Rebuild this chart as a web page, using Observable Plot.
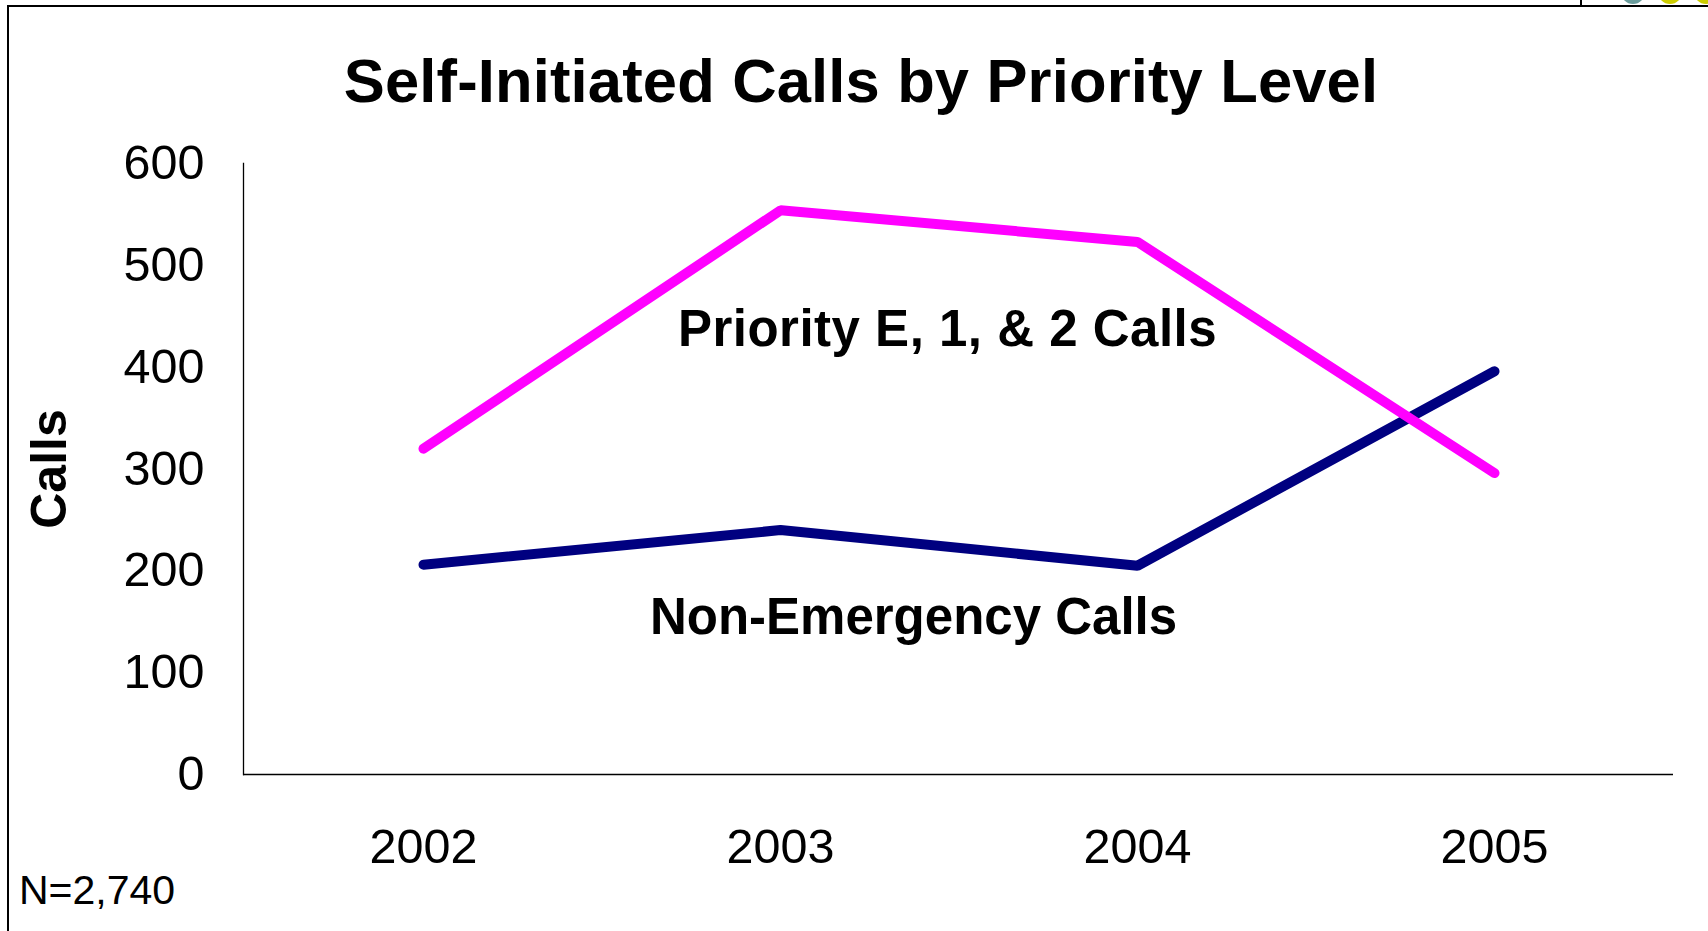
<!DOCTYPE html>
<html>
<head>
<meta charset="utf-8">
<script src="https://cdn.jsdelivr.net/npm/d3@7"></script>
<script src="https://cdn.jsdelivr.net/npm/@observablehq/plot@0.6"></script>
<style>
  html, body { margin: 0; padding: 0; background: #fff; }
  #wrap { position: relative; width: 1708px; height: 931px; overflow: hidden; font-family: "Liberation Sans", Arial, sans-serif; color: #000; }
  #frame { position: absolute; left: 7px; top: 5px; width: 1800px; height: 1000px; border-left: 2px solid #000; border-top: 2px solid #000; }
  #tick { position: absolute; left: 1580px; top: 0; width: 2px; height: 6px; background: #000; }
  .dot { position: absolute; width: 24px; height: 24px; border-radius: 50%; top: -20px; }
  #title { position: absolute; left: 7px; width: 1708px; top: 50px; text-align: center; font-size: 61.5px; line-height: 61.5px; font-weight: bold; letter-spacing: 0.15px; white-space: nowrap; }
  #note { position: absolute; left: 19px; top: 870px; font-size: 41px; line-height: 41px; white-space: nowrap; }
  #chart { position: absolute; left: 0; top: 0; }
</style>
</head>
<body>
<div id="wrap">
  <div id="frame"></div>
  <div id="tick"></div>
  <div class="dot" style="left:1621px;background:#6a9c9c"></div>
  <div class="dot" style="left:1658px;background:#cccc00"></div>
  <div class="dot" style="left:1694px;background:#cccc00"></div>
  <div id="chart"></div>
  <div id="title">Self-Initiated Calls by Priority Level</div>
  <div id="note">N=2,740</div>
</div>
<script>
const years = ["2002", "2003", "2004", "2005"];
const priorityCalls = [320, 554, 523, 296];
const nonEmergencyCalls = [206, 240, 205, 396];
const yTicks = [0, 100, 200, 300, 400, 500, 600];
const seriesNames = ["Priority E, 1, & 2 Calls", "Non-Emergency Calls"];
const seriesColors = ["#FF00FF", "#000080"];
const yLabel = "Calls";

const prio = years.map((y, i) => ({year: y, calls: priorityCalls[i]}));
const nonEm = years.map((y, i) => ({year: y, calls: nonEmergencyCalls[i]}));

const labels = [
  {year: "2003", calls: 437, text: seriesNames[0], dx: 167},
  {year: "2003", calls: 154, text: seriesNames[1], dx: 133}
];

const chart = Plot.plot({
  width: 1708,
  height: 931,
  marginLeft: 243,
  marginRight: 35,
  marginTop: 163,
  marginBottom: 157,
  style: {fontFamily: "'Liberation Sans', Arial, sans-serif", fontSize: "48px", color: "#000", background: "transparent", overflow: "visible"},
  x: {type: "point", domain: years, padding: 0.5},
  y: {domain: [0, 600]},
  marks: [
    Plot.axisY({ticks: yTicks, tickSize: 0, tickPadding: 39, label: null, fontSize: 48.5}),
    Plot.axisX({tickSize: 0, tickPadding: 54, label: null, fontSize: 48.5}),
    Plot.frame({anchor: "left", stroke: "#000", strokeWidth: 1.3}),
    Plot.ruleY([0], {stroke: "#000", strokeWidth: 1.3}),
    Plot.line(nonEm, {x: "year", y: "calls", stroke: seriesColors[1], strokeWidth: 10, strokeLinecap: "round", strokeLinejoin: "miter"}),
    Plot.line(prio, {x: "year", y: "calls", stroke: seriesColors[0], strokeWidth: 10, strokeLinecap: "round", strokeLinejoin: "miter"}),
    Plot.text([labels[0]], {x: "year", y: "calls", text: "text", dx: labels[0].dx, fontSize: 51, fontWeight: "bold", fill: "#000", textAnchor: "middle", style: "letter-spacing:0.5px"}),
    Plot.text([labels[1]], {x: "year", y: "calls", text: "text", dx: labels[1].dx, fontSize: 51, fontWeight: "bold", fill: "#000", textAnchor: "middle"}),
    Plot.text([yLabel], {frameAnchor: "left", dx: -194, rotate: -90, fontSize: 50, fontWeight: "bold", fill: "#000", textAnchor: "middle"})
  ]
});
chart.querySelectorAll("text").forEach(t => {
  if (t.textContent === seriesNames[0]) t.setAttribute("letter-spacing", "0.5");
});
document.getElementById("chart").appendChild(chart);
</script>
</body>
</html>
